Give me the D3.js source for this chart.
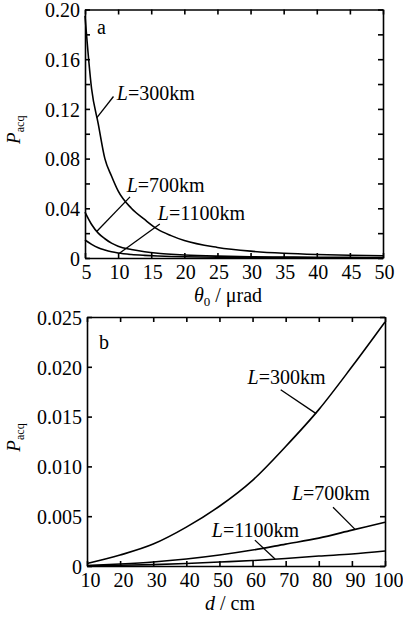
<!DOCTYPE html>
<html>
<head>
<meta charset="utf-8">
<script src="https://cdn.jsdelivr.net/npm/d3@7"></script>
<style>
body { margin: 0; background: #fff; }
svg { display: block; font-family: "Liberation Serif", "DejaVu Serif", serif; }
svg text { font-family: "Liberation Serif", "DejaVu Serif", serif; fill: #000; }
.axis path, .axis line { stroke: #000; stroke-width: 1.6; }
.axis text { font-size: 20px; }
.curve { fill: none; stroke: #000; stroke-width: 1.6; }
.leader { stroke: #000; stroke-width: 1.3; }
</style>
</head>
<body>
<div id="chart"></div>
<script>
// panel a: P_acq against divergence angle theta0 (urad)
const thetaVals = [5, 6, 7, 8, 9, 10, 12, 14, 16, 18, 20, 25, 30, 35, 40, 45, 50];
const pTheta300 = [0.195, 0.136, 0.108, 0.080, 0.066, 0.054, 0.040, 0.031, 0.023, 0.018, 0.014, 0.0085, 0.0055, 0.0038, 0.0028, 0.0022, 0.0018];
const pTheta700 = [0.037, 0.027, 0.020, 0.0155, 0.012, 0.0095, 0.0068, 0.005, 0.0038, 0.003, 0.0024, 0.0015, 0.001, 0.0008, 0.0006, 0.0005, 0.0004];
const pTheta1100 = [0.0145, 0.011, 0.0082, 0.0064, 0.005, 0.004, 0.0028, 0.0021, 0.0016, 0.0012, 0.001, 0.0006, 0.0004, 0.0003, 0.00022, 0.00018, 0.00015];
const thetaTicks = [5, 10, 15, 20, 25, 30, 35, 40, 45, 50];
const pThetaTicks = [0, 0.02, 0.04, 0.06, 0.08, 0.10, 0.12, 0.14, 0.16, 0.18, 0.20];
const pThetaLabels = ["0", "", "0.04", "", "0.08", "", "0.12", "", "0.16", "", "0.20"];

// panel b: P_acq against aperture d (cm)
const dVals = [10, 20, 30, 40, 50, 60, 70, 80, 90, 100];
const pD300 = [0.00025, 0.0011, 0.0022, 0.0039, 0.0060, 0.0086, 0.0120, 0.0157, 0.0200, 0.0245];
const pD700 = [0.00005, 0.0002, 0.0004, 0.0007, 0.0011, 0.0016, 0.0022, 0.0028, 0.0036, 0.0044];
const pD1100 = [0.00002, 0.00007, 0.00014, 0.00025, 0.0004, 0.00055, 0.00075, 0.001, 0.0012, 0.0015];
const dTicks = [10, 20, 30, 40, 50, 60, 70, 80, 90, 100];
const pDTicks = [0, 0.005, 0.010, 0.015, 0.020, 0.025];
const pDLabels = ["0", "0.005", "0.010", "0.015", "0.020", "0.025"];

// curve labels: text anchor and leader line, in data units
const notesA = [
    { L: "300", tx: 9.8, ty: 0.127, lx1: 6.8, ly1: 0.113, lx2: 9.3, ly2: 0.130 },
    { L: "700", tx: 11.3, ty: 0.0532, lx1: 6.8, ly1: 0.0215, lx2: 11.8, ly2: 0.0492 },
    { L: "1100", tx: 16.0, ty: 0.0306, lx1: 10.2, ly1: 0.0038, lx2: 16.3, ly2: 0.0274 }
];
const notesB = [
    { L: "300", tx: 58.5, ty: 0.0183, lx1: 68.5, ly1: 0.0177, lx2: 79.2, ly2: 0.0153 },
    { L: "700", tx: 71.9, ty: 0.0066, lx1: 84.3, ly1: 0.0059, lx2: 90.9, ly2: 0.0037 },
    { L: "1100", tx: 47.7, ty: 0.0029, lx1: 60.7, ly1: 0.0026, lx2: 66.8, ly2: 0.0007 }
];

const svg = d3.select('#chart')
    .append('svg')
    .attr('width', 403)
    .attr('height', 617);

function drawPanel(cfg) {
    const x = d3.scaleLinear().domain(cfg.xDomain).range([cfg.left, cfg.right]);
    const y = d3.scaleLinear().domain(cfg.yDomain).range([cfg.bottom, cfg.top]);
    const g = svg.append('g');

    const labelFor = v => {
        const i = cfg.yTicks.findIndex(t => Math.abs(t - v) < 1e-9);
        return i < 0 ? "" : cfg.yLabels[i];
    };

    // ticks point inward on all four sides
    g.append('g').attr('class', 'axis axis-bottom')
        .attr('transform', `translate(0,${cfg.bottom})`)
        .call(d3.axisBottom(x).tickValues(cfg.xTicks).tickSize(-5).tickSizeOuter(0).tickPadding(7));
    g.append('g').attr('class', 'axis')
        .attr('transform', `translate(0,${cfg.top})`)
        .call(d3.axisTop(x).tickValues(cfg.xTicks).tickSize(-5).tickSizeOuter(0).tickFormat(''));
    g.append('g').attr('class', 'axis axis-left')
        .attr('transform', `translate(${cfg.left},0)`)
        .call(d3.axisLeft(y).tickValues(cfg.yTicks).tickSize(-5).tickSizeOuter(0).tickPadding(5).tickFormat(labelFor));
    g.append('g').attr('class', 'axis')
        .attr('transform', `translate(${cfg.right},0)`)
        .call(d3.axisRight(y).tickValues(cfg.yTicks).tickSize(-5).tickSizeOuter(0).tickFormat(''));
    g.selectAll('.axis').attr('font-family', null).attr('font-size', null);
    g.selectAll('.axis-left text').attr('dy', '0.36em');
    g.selectAll('.axis-bottom text').attr('dx', cfg.xLabelDx);

    const line = d3.line()
        .x((d, i) => x(cfg.xVals[i]))
        .y(d => y(d))
        .curve(d3.curveMonotoneX);

    cfg.series.forEach(s => {
        g.append('path').attr('class', 'curve').attr('d', line(s));
    });

    cfg.notes.forEach(n => {
        g.append('line').attr('class', 'leader')
            .attr('x1', x(n.lx1)).attr('y1', y(n.ly1))
            .attr('x2', x(n.lx2)).attr('y2', y(n.ly2));
        const t = g.append('text')
            .attr('x', x(n.tx)).attr('y', y(n.ty))
            .style('font-size', '20px');
        t.append('tspan').style('font-style', 'italic').text('L');
        t.append('tspan').text(`=${n.L}km`);
    });

    // panel letter
    g.append('text')
        .attr('x', cfg.left + 12).attr('y', cfg.top + cfg.letterDy)
        .style('font-size', '20px')
        .text(cfg.letter);

    // y title P_acq
    const yt = g.append('text')
        .attr('transform', `translate(20,${(cfg.top + cfg.bottom) / 2 - 4}) rotate(-90)`)
        .attr('text-anchor', 'middle');
    yt.append('tspan').style('font-style', 'italic').style('font-size', '19px').text('P');
    yt.append('tspan').attr('dy', 4).style('font-size', '12px').text('acq');

    // x title
    const xt = g.append('text')
        .attr('x', (cfg.left + cfg.right) / 2 - 6)
        .attr('y', cfg.bottom + 44)
        .attr('text-anchor', 'middle')
        .style('font-size', '20px');
    cfg.xTitle(xt);
}

drawPanel({
    xDomain: [5, 50], yDomain: [0, 0.20],
    left: 85, right: 383, top: 9.5, bottom: 258,
    xTicks: thetaTicks, yTicks: pThetaTicks, yLabels: pThetaLabels,
    xVals: thetaVals, series: [pTheta300, pTheta700, pTheta1100],
    notes: notesA, letter: 'a', letterDy: 24, xLabelDx: 1,
    xTitle: t => {
        t.append('tspan').style('font-style', 'italic').text('θ');
        t.append('tspan').attr('dy', 4).style('font-size', '13px').text('0');
        t.append('tspan').attr('dy', -4).text(' / μrad');
    }
});

drawPanel({
    xDomain: [10, 100], yDomain: [0, 0.025],
    left: 87, right: 385, top: 317, bottom: 566,
    xTicks: dTicks, yTicks: pDTicks, yLabels: pDLabels,
    xVals: dVals, series: [pD300, pD700, pD1100],
    notes: notesB, letter: 'b', letterDy: 32, xLabelDx: 3,
    xTitle: t => {
        t.append('tspan').style('font-style', 'italic').text('d');
        t.append('tspan').text(' / cm');
    }
});
</script>
</body>
</html>
